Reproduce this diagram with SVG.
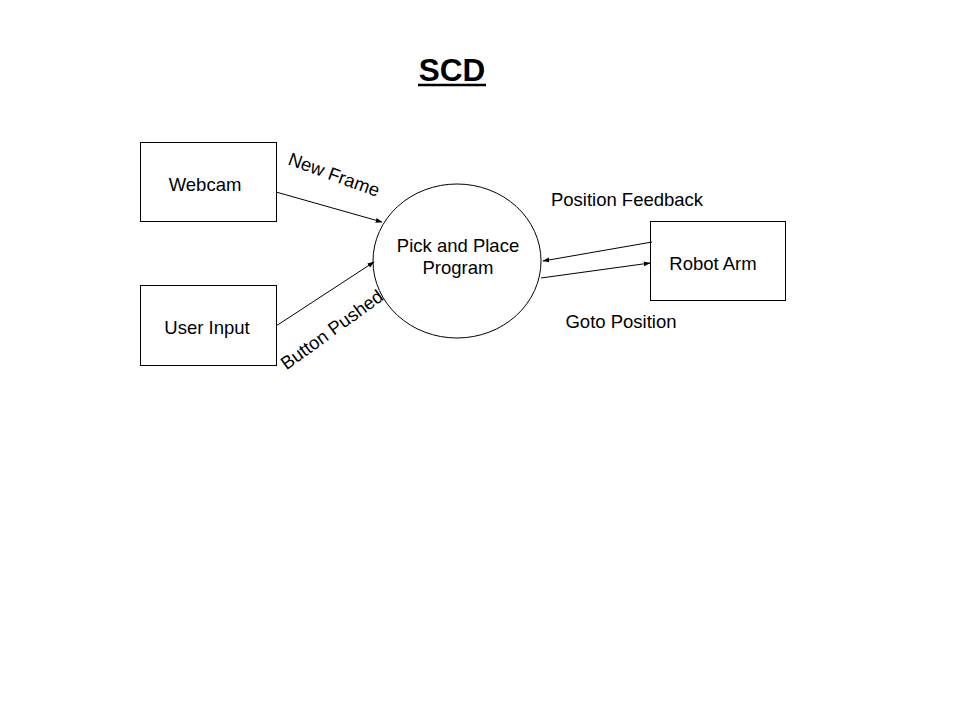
<svg xmlns="http://www.w3.org/2000/svg" width="960" height="720" viewBox="0 0 960 720">
<style>
text{font-family:"Liberation Sans",Arial,sans-serif;font-size:18.5px;fill:#000}
.box{fill:#fff;stroke:#000;stroke-width:1}
.c{stroke:#000;stroke-width:1;fill:none;marker-end:url(#ah)}
</style>
<defs>
<marker id="ah" viewBox="0 0 10 10" refX="9" refY="5" markerWidth="7" markerHeight="7" orient="auto" markerUnits="userSpaceOnUse">
<path d="M0,1.5 L10,5 L0,8.5 z" fill="#000"/>
</marker>
</defs>
<rect width="960" height="720" fill="#fff"/>
<g id="title">
<text x="452" y="81" text-anchor="middle" style="font-size:31.5px;font-weight:bold">SCD</text>
<line x1="418" y1="85" x2="486" y2="85" stroke="#000" stroke-width="2.5"/>
</g>
<g id="webcam">
<rect class="box" x="140.5" y="142.5" width="136" height="79"/>
<text x="205" y="191" text-anchor="middle">Webcam</text>
</g>
<g id="userinput">
<rect class="box" x="140.5" y="285.5" width="136" height="80"/>
<text x="207" y="334" text-anchor="middle">User Input</text>
</g>
<g id="program">
<ellipse class="box" cx="457" cy="261" rx="84" ry="77"/>
<text x="458" y="252" text-anchor="middle">Pick and Place</text>
<text x="458" y="274" text-anchor="middle">Program</text>
</g>
<g id="robotarm">
<rect class="box" x="650.5" y="221.5" width="135" height="79"/>
<text x="713" y="270" text-anchor="middle">Robot Arm</text>
</g>
<g id="connectors">
<line class="c" x1="276" y1="192" x2="382" y2="222"/>
<line class="c" x1="276" y1="326" x2="374" y2="262"/>
<line class="c" x1="652" y1="242" x2="543" y2="261"/>
<line class="c" x1="541" y1="278" x2="650" y2="263"/>
<text x="334" y="181" text-anchor="middle" transform="rotate(20 334 175)">New Frame</text>
<text x="332" y="336" text-anchor="middle" transform="rotate(-36 332 330)">Button Pushed</text>
<text x="627" y="206" text-anchor="middle">Position Feedback</text>
<text x="621" y="328" text-anchor="middle">Goto Position</text>
</g>
</svg>
